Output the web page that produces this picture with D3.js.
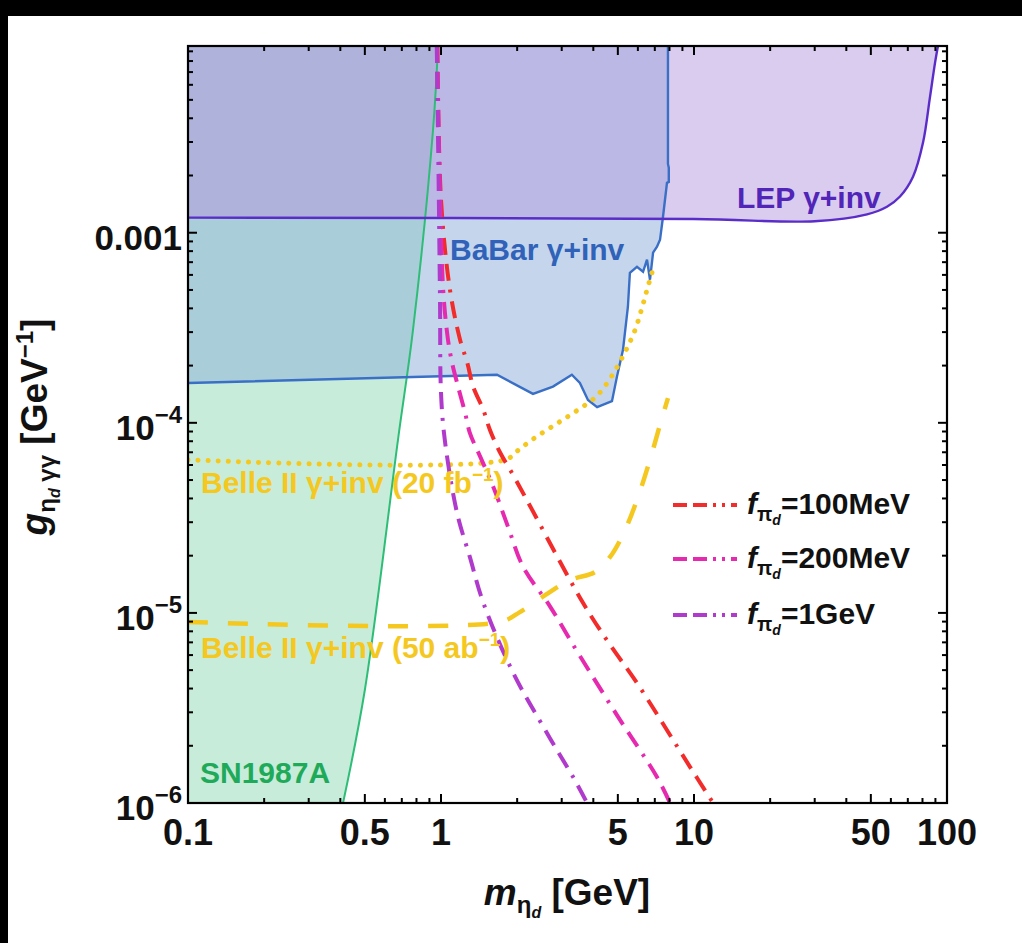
<!DOCTYPE html>
<html>
<head>
<meta charset="utf-8">
<script src="https://cdn.jsdelivr.net/npm/d3@7"></script>
<style>
  html, body { margin: 0; padding: 0; background: #fff; }
  svg text { font-family: "Liberation Sans", Arial, sans-serif; font-weight: bold; }
</style>
</head>
<body>
<div id="chart"></div>
<script>
/* ===== eta_d photon coupling exclusion plot ===== */

// --- axis ticks ---
const xTickLabels = [0.1, 0.5, 1, 5, 10, 50, 100];
const yTickExps = [-6, -5, -4, -3];

// --- SN1987A boundary (excluded to the left) ---
const snX = [0.41, 0.50, 0.676, 0.775, 0.93, 0.973];
const snY = [1e-6, 3.93e-6, 8.14e-5, 3.08e-4, 3.48e-3, 9.6e-3];

// --- BaBar gamma+inv (excluded above) ---
const babarX = [0.1, 1.665, 2.31, 2.77, 3.29, 3.54, 3.81, 4.14, 4.53, 4.74, 4.96, 5.24, 5.48, 5.58,
                5.95, 6.29, 6.52, 6.70, 6.89, 7.14, 7.34, 7.54, 7.82, 7.95, 7.95, 7.89, 7.89];
const babarY = [1.62e-4, 1.79e-4, 1.42e-4, 1.55e-4, 1.79e-4, 1.62e-4, 1.32e-4, 1.21e-4, 1.27e-4, 1.30e-4,
                1.75e-4, 2.42e-4, 4.08e-4, 6.16e-4, 6.62e-4, 6.23e-4, 7.21e-4, 5.66e-4, 7.85e-4, 8.44e-4,
                9.18e-4, 1.21e-3, 1.83e-3, 1.85e-3, 2.2e-3, 2.3e-3, 9.6e-3];

// --- LEP gamma+inv (excluded above) ---
const lepX = [0.1, 10, 30, 48.3, 57.9, 65.2, 73.4, 80.4, 85.7, 89.7, 92.1];
const lepY = [1.2e-3, 1.18e-3, 1.15e-3, 1.25e-3, 1.37e-3, 1.55e-3, 1.97e-3, 2.98e-3, 5.2e-3, 7.85e-3, 9.6e-3];

// --- Belle II projections ---
const belle20X = [0.1, 1.79, 2.05, 2.35, 2.82, 3.38, 4.14, 4.74, 5.34, 5.85, 6.23, 6.52, 6.82];
const belle20Y = [6.39e-5, 6.39e-5, 7.3e-5, 8.34e-5, 9.76e-5, 1.14e-4, 1.39e-4, 1.77e-4, 2.36e-4,
                  3.08e-4, 4.03e-4, 5.01e-4, 6.16e-4];
const belle50X = [0.1, 1.71, 2.05, 2.58, 3.24, 4.06, 4.66, 5.34, 6.01, 6.70, 7.34, 7.89];
const belle50Y = [8.97e-6, 8.97e-6, 1.01e-5, 1.24e-5, 1.49e-5, 1.64e-5, 1.97e-5, 2.73e-5, 4.08e-5,
                  6.39e-5, 9.76e-5, 1.35e-4];

// --- f_pi_d theory lines ---
const f100X = [0.968, 1.0, 1.085, 1.19, 1.27, 1.34, 1.47, 1.56, 1.71, 1.93, 2.19, 3.64, 4.66, 5.95, 9.64, 11.9];
const f100Y = [9.6e-3, 1.49e-3, 5.01e-4, 2.73e-4, 2.07e-4, 1.55e-4, 1.17e-4, 9.2e-5, 7.0e-5, 5.3e-5,
               3.9e-5, 1.13e-5, 6.79e-6, 4.28e-6, 1.55e-6, 1.0e-6];
const f200X = [0.965, 0.982, 1.02, 1.066, 1.106, 1.168, 1.245, 1.30, 1.43, 1.61, 1.84, 2.11, 2.70, 3.48,
               4.96, 7.14, 8.04];
const f200Y = [9.6e-3, 2.73e-3, 5.01e-4, 2.73e-4, 2.07e-4, 1.55e-4, 1.13e-4, 8.86e-5, 6.62e-5, 4.6e-5,
               2.84e-5, 1.75e-5, 1.08e-5, 6.16e-6, 2.9e-6, 1.37e-6, 1e-6];
const f1000X = [0.962, 0.975, 0.991, 1.0, 1.035, 1.157, 1.30, 1.47, 1.93, 2.65, 3.38, 3.78];
const f1000Y = [9.6e-3, 2.73e-3, 4.44e-4, 1.44e-4, 8.14e-5, 3.36e-5, 1.97e-5, 1.13e-5, 4.83e-6,
                2.28e-6, 1.32e-6, 1e-6];

const legendNames = ['100MeV', '200MeV', '1GeV'];

// ---------------------------------------------------------------
const W = 1022, H = 943;
const plot = { left: 188, right: 947, top: 46, bottom: 803 };
const Y_TOP = 9.6e-3;

const svg = d3.select('#chart').append('svg')
    .attr('width', W).attr('height', H)
    .style('display', 'block');

svg.append('rect').attr('width', W).attr('height', H).attr('fill', '#fff');
// black strips from the scanned original
svg.append('rect').attr('x', 0).attr('y', 0).attr('width', W).attr('height', 16).attr('fill', '#000');
svg.append('rect').attr('x', 0).attr('y', 0).attr('width', 8).attr('height', H).attr('fill', '#000');

const x = d3.scaleLog().domain([0.1, 100]).range([plot.left, plot.right]);
const y = d3.scaleLog().domain([1e-6, Y_TOP]).range([plot.bottom, plot.top]);

svg.append('defs').append('clipPath').attr('id', 'plotClip')
    .append('rect')
    .attr('x', plot.left).attr('y', plot.top)
    .attr('width', plot.right - plot.left).attr('height', plot.bottom - plot.top);

const g = svg.append('g').attr('clip-path', 'url(#plotClip)');

const zip = (xs, ys) => xs.map((v, i) => [v, ys[i]]);
const lineLin = d3.line().x(d => x(d[0])).y(d => y(d[1]));
const lineSmooth = d3.line().x(d => x(d[0])).y(d => y(d[1])).curve(d3.curveCatmullRom.alpha(0.5));
const corner = (vx, vy) => `L${x(vx)},${y(vy)}`;

// --- filled regions (semi-transparent, stacked like the original) ---
const snPts = zip(snX, snY);
g.append('path')
    .attr('d', lineSmooth(snPts) + corner(0.1, Y_TOP) + corner(0.1, 1e-6) + 'Z')
    .attr('fill', '#91d9b5').attr('fill-opacity', 0.5);

const babarPts = zip(babarX, babarY);
g.append('path')
    .attr('d', lineLin(babarPts) + corner(0.1, Y_TOP) + 'Z')
    .attr('fill', '#8badd9').attr('fill-opacity', 0.5);

const lepPts = zip(lepX, lepY);
g.append('path')
    .attr('d', lineSmooth(lepPts) + corner(0.1, Y_TOP) + 'Z')
    .attr('fill', '#b399dd').attr('fill-opacity', 0.5);

// --- boundary lines ---
g.append('path').attr('d', lineSmooth(snPts))
    .attr('fill', 'none').attr('stroke', '#2dbd76').attr('stroke-width', 2);
g.append('path').attr('d', lineLin(babarPts))
    .attr('fill', 'none').attr('stroke', '#3a6fc6').attr('stroke-width', 2.4);
g.append('path').attr('d', lineSmooth(lepPts))
    .attr('fill', 'none').attr('stroke', '#5a2dc8').attr('stroke-width', 2.4);

// --- Belle II projections ---
const belleColor = '#f4c81f';
g.append('path').attr('d', lineSmooth(zip(belle20X, belle20Y)))
    .attr('fill', 'none').attr('stroke', belleColor).attr('stroke-width', 5)
    .attr('stroke-linecap', 'round').attr('stroke-dasharray', '0.1 10');
g.append('path').attr('d', lineSmooth(zip(belle50X, belle50Y)))
    .attr('fill', 'none').attr('stroke', belleColor).attr('stroke-width', 4.5)
    .attr('stroke-dasharray', '20 20');

// --- f_pi_d lines ---
const fSeries = [
    { xs: f100X, ys: f100Y, color: '#f22b2b' },
    { xs: f200X, ys: f200Y, color: '#e62ab0' },
    { xs: f1000X, ys: f1000Y, color: '#b03acb' }
];
const dashDot = '17 9 17 9 3 9';
fSeries.forEach(s => {
    g.append('path').attr('d', lineSmooth(zip(s.xs, s.ys)))
        .attr('fill', 'none').attr('stroke', s.color).attr('stroke-width', 4)
        .attr('stroke-dasharray', dashDot);
});

// --- in-plot labels ---
const labels = svg.append('g').style('font-size', '30px');
labels.append('text').attr('x', 737).attr('y', 208).attr('fill', '#5025b8').text('LEP γ+inv');
labels.append('text').attr('x', 450).attr('y', 260).attr('fill', '#2f62b8').text('BaBar γ+inv');
labels.append('text').attr('x', 200).attr('y', 783).attr('fill', '#1faa5a').text('SN1987A');

function belleLabel(yPos, lumi, unit) {
    const t = labels.append('text').attr('x', 201).attr('y', yPos).attr('fill', belleColor);
    t.append('tspan').text(`Belle II γ+inv (${lumi} ${unit}`);
    t.append('tspan').attr('dy', -12).style('font-size', '19px').text('−1');
    t.append('tspan').attr('dy', 12).text(')');
}
belleLabel(493, '20', 'fb');
belleLabel(658, '50', 'ab');

// --- legend ---
const legendY = [505, 559, 615];
const legend = svg.append('g');
fSeries.forEach((s, i) => {
    legend.append('line')
        .attr('x1', 673).attr('x2', 737)
        .attr('y1', legendY[i]).attr('y2', legendY[i])
        .attr('stroke', s.color).attr('stroke-width', 4)
        .attr('stroke-dasharray', '14 6 14 6 3 6 3 6');
    const t = legend.append('text').attr('x', 747).attr('y', legendY[i] + 9)
        .style('font-size', '30px').attr('fill', '#111');
    t.append('tspan').style('font-style', 'italic').text('f');
    t.append('tspan').attr('dy', 7).style('font-size', '20px').text('π');
    t.append('tspan').attr('dy', 4).style('font-size', '14px').style('font-style', 'italic').text('d');
    t.append('tspan').attr('dy', -11).text('=' + legendNames[i]);
});

// --- frame and ticks ---
const axes = svg.append('g');
axes.append('rect')
    .attr('x', plot.left).attr('y', plot.top)
    .attr('width', plot.right - plot.left).attr('height', plot.bottom - plot.top)
    .attr('fill', 'none').attr('stroke', '#000').attr('stroke-width', 2.2);

const xMinor = [];
[0.1, 1, 10].forEach(d => { for (let k = 1; k <= 10; k++) xMinor.push(+(d * k).toPrecision(3)); });
const yMinor = [];
[1e-6, 1e-5, 1e-4, 1e-3].forEach(d => { for (let k = 1; k <= 9; k++) { const v = d * k; if (v <= Y_TOP) yMinor.push(v); } });

const isMajorX = v => xTickLabels.some(t => Math.abs(t - v) / t < 1e-6);
const isMajorY = v => yTickExps.some(e => Math.abs(Math.pow(10, e) - v) / v < 1e-6);

xMinor.forEach(v => {
    const len = isMajorX(v) ? 9 : 5;
    const px = x(v);
    axes.append('line').attr('x1', px).attr('x2', px).attr('y1', plot.bottom).attr('y2', plot.bottom - len)
        .attr('stroke', '#000').attr('stroke-width', 2);
    axes.append('line').attr('x1', px).attr('x2', px).attr('y1', plot.top).attr('y2', plot.top + len)
        .attr('stroke', '#000').attr('stroke-width', 2);
});
yMinor.forEach(v => {
    const len = isMajorY(v) ? 9 : 5;
    const py = y(v);
    axes.append('line').attr('x1', plot.left).attr('x2', plot.left + len).attr('y1', py).attr('y2', py)
        .attr('stroke', '#000').attr('stroke-width', 2);
    axes.append('line').attr('x1', plot.right).attr('x2', plot.right - len).attr('y1', py).attr('y2', py)
        .attr('stroke', '#000').attr('stroke-width', 2);
});

// tick labels
xTickLabels.forEach(v => {
    axes.append('text').attr('x', x(v)).attr('y', plot.bottom + 42)
        .attr('text-anchor', 'middle').style('font-size', '36px').attr('fill', '#111')
        .text(String(v));
});
yTickExps.forEach(e => {
    const t = axes.append('text').attr('x', 182).attr('y', y(Math.pow(10, e)) + 17)
        .attr('text-anchor', 'end').style('font-size', '35px').attr('fill', '#111');
    if (e === -3) {
        t.text('0.001');
    } else {
        t.append('tspan').text('10');
        t.append('tspan').attr('dy', -17).style('font-size', '24px').text('−' + (-e));
    }
});

// axis titles
const xt = axes.append('text').attr('x', 567).attr('y', 905)
    .attr('text-anchor', 'middle').style('font-size', '37px').attr('fill', '#111');
xt.append('tspan').style('font-style', 'italic').text('m');
xt.append('tspan').attr('dy', 8).style('font-size', '24px').text('η');
xt.append('tspan').attr('dy', 5).style('font-size', '16px').style('font-style', 'italic').text('d');
xt.append('tspan').attr('dy', -13).text(' [GeV]');

const yt = axes.append('text').attr('transform', 'translate(47,427) rotate(-90)')
    .attr('text-anchor', 'middle').style('font-size', '37px').attr('fill', '#111');
yt.append('tspan').style('font-style', 'italic').text('g');
yt.append('tspan').attr('dy', 8).style('font-size', '24px').text('η');
yt.append('tspan').attr('dy', 5).style('font-size', '16px').style('font-style', 'italic').text('d');
yt.append('tspan').attr('dy', -5).style('font-size', '24px').text(' γγ');
yt.append('tspan').attr('dy', -8).text(' [GeV');
yt.append('tspan').attr('dy', -14).style('font-size', '24px').text('−1');
yt.append('tspan').attr('dy', 14).text(']');
</script>
</body>
</html>
